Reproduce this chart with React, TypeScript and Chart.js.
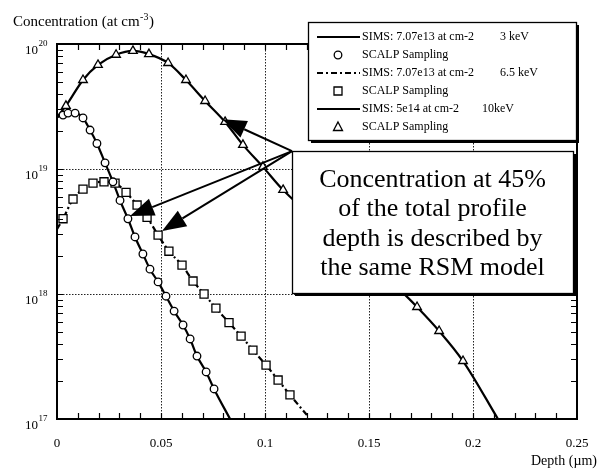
import { useEffect, useRef } from "react";
import { Chart, registerables } from "chart.js";
Chart.register(...registerables);

const SERIF = '"Liberation Serif", "Times New Roman", serif';

// ---- Data (depth in µm, concentration in at/cm^3) ----
const sims3Depth = [0, 0.0029, 0.0053, 0.0087, 0.0125, 0.0159, 0.0192, 0.0231, 0.0269, 0.0303, 0.0341, 0.0375, 0.0413, 0.0447, 0.0486, 0.0524, 0.0563, 0.0606, 0.064, 0.0673, 0.0717, 0.0755, 0.0832];
const sims3Conc = [2.6e19, 2.7e19, 2.8e19, 2.8e19, 2.56e19, 2.05e19, 1.6e19, 1.12e19, 7.9e18, 5.6e18, 4.0e18, 2.86e18, 2.09e18, 1.58e18, 1.25e18, 9.6e17, 7.3e17, 5.65e17, 4.37e17, 3.19e17, 2.38e17, 1.74e17, 1.0e17];
const scalp3Depth = [0.0029, 0.0053, 0.0087, 0.0125, 0.0159, 0.0192, 0.0231, 0.0269, 0.0303, 0.0341, 0.0375, 0.0413, 0.0447, 0.0486, 0.0524, 0.0563, 0.0606, 0.064, 0.0673, 0.0717, 0.0755];
const scalp3Conc = [2.7e19, 2.8e19, 2.8e19, 2.56e19, 2.05e19, 1.6e19, 1.12e19, 7.9e18, 5.6e18, 4.0e18, 2.86e18, 2.09e18, 1.58e18, 1.25e18, 9.6e17, 7.3e17, 5.65e17, 4.37e17, 3.19e17, 2.38e17, 1.74e17];

const sims65Depth = [0, 0.0029, 0.0077, 0.0125, 0.0173, 0.0226, 0.0279, 0.0332, 0.0385, 0.0433, 0.0486, 0.0538, 0.0601, 0.0654, 0.0707, 0.0764, 0.0827, 0.0885, 0.0942, 0.1005, 0.1063, 0.112, 0.1207];
const sims65Conc = [3.3e18, 4.0e18, 5.75e18, 6.9e18, 7.7e18, 7.9e18, 7.7e18, 6.5e18, 5.15e18, 4.1e18, 2.96e18, 2.2e18, 1.7e18, 1.27e18, 1.0e18, 7.7e17, 5.9e17, 4.6e17, 3.56e17, 2.7e17, 2.05e17, 1.56e17, 1.05e17];
const scalp65Depth = [0.0029, 0.0077, 0.0125, 0.0173, 0.0226, 0.0279, 0.0332, 0.0385, 0.0433, 0.0486, 0.0538, 0.0601, 0.0654, 0.0707, 0.0764, 0.0827, 0.0885, 0.0942, 0.1005, 0.1063, 0.112];
const scalp65Conc = [4.0e18, 5.75e18, 6.9e18, 7.7e18, 7.9e18, 7.7e18, 6.5e18, 5.15e18, 4.1e18, 2.96e18, 2.2e18, 1.7e18, 1.27e18, 1.0e18, 7.7e17, 5.9e17, 4.6e17, 3.56e17, 2.7e17, 2.05e17, 1.56e17];

const sims10Depth = [0, 0.0043, 0.0125, 0.0197, 0.0284, 0.0365, 0.0442, 0.0534, 0.062, 0.0712, 0.0808, 0.0894, 0.099, 0.1087, 0.1663, 0.1731, 0.1837, 0.1952, 0.212];
const sims10Conc = [2.6e19, 3.2e19, 5.15e19, 6.8e19, 8.2e19, 8.8e19, 8.3e19, 7.05e19, 5.15e19, 3.5e19, 2.38e19, 1.56e19, 1.04e19, 6.8e18, 1.02e18, 7.87e17, 5.06e17, 2.91e17, 1.0e17];
const scalp10Depth = [0.0043, 0.0125, 0.0197, 0.0284, 0.0365, 0.0442, 0.0534, 0.062, 0.0712, 0.0808, 0.0894, 0.099, 0.1087, 0.1731, 0.1837, 0.1952];
const scalp10Conc = [3.2e19, 5.15e19, 6.8e19, 8.2e19, 8.8e19, 8.3e19, 7.05e19, 5.15e19, 3.5e19, 2.38e19, 1.56e19, 1.04e19, 6.8e18, 7.87e17, 5.06e17, 2.91e17];

const xTicks = [0, 0.05, 0.1, 0.15, 0.2, 0.25];
const yDecades = [17, 18, 19, 20];

const legendLabels = [
  ["SIMS: 7.07e13 at cm-2", "3 keV"],
  ["SCALP Sampling", ""],
  ["SIMS: 7.07e13 at cm-2", "6.5 keV"],
  ["SCALP Sampling", ""],
  ["SIMS: 5e14 at cm-2", "10keV"],
  ["SCALP Sampling", ""],
];
const calloutLines = ["Concentration at 45%", "of the total profile", "depth is described by", "the same RSM model"];
// arrow origin and tips, in data coordinates
const arrowOrigin = { x: 0.113, y: 1.39e19 };
const arrowTips = [
  { x: 0.0795, y: 2.5e19 },
  { x: 0.0351, y: 4.2e18 },
  { x: 0.0505, y: 3.19e18 },
];

const pts = (xs: number[], ys: number[]) => xs.map((x, i) => ({ x, y: ys[i] }));

function drawMarker(ctx: CanvasRenderingContext2D, kind: string, x: number, y: number) {
  ctx.save();
  ctx.fillStyle = "#fff";
  ctx.strokeStyle = "#000";
  ctx.lineWidth = 1.3;
  ctx.setLineDash([]);
  ctx.beginPath();
  if (kind === "circle") ctx.arc(x, y, 3.8, 0, Math.PI * 2);
  else if (kind === "rect") ctx.rect(x - 4, y - 4, 8, 8);
  else {
    ctx.moveTo(x, y - 5);
    ctx.lineTo(x + 4.5, y + 3.5);
    ctx.lineTo(x - 4.5, y + 3.5);
    ctx.closePath();
  }
  ctx.fill();
  ctx.stroke();
  ctx.restore();
}

const decorPlugin = {
  id: "decor",
  afterDatasetsDraw(chart: any) {
    const { ctx, chartArea: a, scales } = chart;
    const xs = scales.x;
    const ys = scales.y;
    ctx.save();
    ctx.strokeStyle = "#000";
    ctx.lineWidth = 1.2;
    ctx.setLineDash([]);
    // x minor ticks (inward, bottom and top)
    for (let i = 1; i < 25; i++) {
      const px = Math.round(xs.getPixelForValue(i * 0.01)) + 0.5;
      ctx.beginPath();
      ctx.moveTo(px, a.bottom);
      ctx.lineTo(px, a.bottom - 6);
      ctx.moveTo(px, a.top);
      ctx.lineTo(px, a.top + 6);
      ctx.stroke();
    }
    // y minor ticks (inward, left and right)
    for (let d = 17; d < 20; d++) {
      for (let m = 2; m <= 10; m++) {
        const py = Math.round(ys.getPixelForValue(m * Math.pow(10, d))) + 0.5;
        ctx.beginPath();
        ctx.moveTo(a.left, py);
        ctx.lineTo(a.left + 6, py);
        ctx.moveTo(a.right, py);
        ctx.lineTo(a.right - 6, py);
        ctx.stroke();
      }
    }
    // frame
    ctx.lineWidth = 2;
    ctx.strokeRect(a.left, a.top, a.right - a.left, a.bottom - a.top);
    ctx.restore();
  },
  afterDraw(chart: any) {
    const { ctx, scales } = chart;
    const xs = scales.x;
    const ys = scales.y;
    ctx.save();
    ctx.fillStyle = "#000";
    // y tick labels 10^n
    for (const d of yDecades) {
      const py = ys.getPixelForValue(Math.pow(10, d));
      ctx.font = `13px ${SERIF}`;
      ctx.textAlign = "right";
      ctx.textBaseline = "alphabetic";
      ctx.fillText("10", 38, py + 10);
      ctx.font = `9px ${SERIF}`;
      ctx.textAlign = "left";
      ctx.fillText(String(d), 38.5, py + 2);
    }
    // y title
    ctx.font = `15px ${SERIF}`;
    ctx.textAlign = "left";
    ctx.textBaseline = "alphabetic";
    const t1 = "Concentration (at cm";
    ctx.fillText(t1, 13, 26);
    const w1 = ctx.measureText(t1).width;
    ctx.font = `10px ${SERIF}`;
    ctx.fillText("-3", 13 + w1 + 0.5, 20);
    const w2 = ctx.measureText("-3").width;
    ctx.font = `15px ${SERIF}`;
    ctx.fillText(")", 13 + w1 + w2 + 1, 26);
    // x title
    ctx.font = `14px ${SERIF}`;
    ctx.textAlign = "right";
    ctx.fillText("Depth (\u00b5m)", 597, 465);

    // legend box
    const L = { x: 308, y: 22, w: 268, h: 118 };
    ctx.fillStyle = "#000";
    ctx.fillRect(L.x + 3, L.y + 3, L.w, L.h);
    ctx.fillStyle = "#fff";
    ctx.fillRect(L.x, L.y, L.w, L.h);
    ctx.strokeStyle = "#000";
    ctx.lineWidth = 1.3;
    ctx.strokeRect(L.x + 0.5, L.y + 0.5, L.w, L.h);
    const kinds = ["solid", "circle", "dash", "rect", "solid", "triangle"];
    legendLabels.forEach((lab, i) => {
      const y = 37 + i * 18;
      const k = kinds[i];
      if (k === "solid" || k === "dash") {
        ctx.save();
        ctx.lineWidth = 2;
        ctx.strokeStyle = "#000";
        ctx.setLineDash(k === "dash" ? [6, 3, 2, 3] : []);
        ctx.beginPath();
        ctx.moveTo(317, y);
        ctx.lineTo(360, y);
        ctx.stroke();
        ctx.restore();
      } else {
        drawMarker(ctx, k, 338, y);
      }
      ctx.fillStyle = "#000";
      ctx.font = `12px ${SERIF}`;
      ctx.textAlign = "left";
      ctx.textBaseline = "middle";
      ctx.fillText(lab[0], 362, y);
      if (lab[1]) ctx.fillText(lab[1], i === 4 ? 482 : 500, y);
    });

    // callout text box
    const B = { x: 292, y: 151, w: 281, h: 142 };
    ctx.fillStyle = "#000";
    ctx.fillRect(B.x + 3, B.y + 3, B.w, B.h);
    ctx.fillStyle = "#fff";
    ctx.fillRect(B.x, B.y, B.w, B.h);
    ctx.strokeStyle = "#000";
    ctx.lineWidth = 1.3;
    ctx.strokeRect(B.x + 0.5, B.y + 0.5, B.w, B.h);
    ctx.fillStyle = "#000";
    ctx.font = `26px ${SERIF}`;
    ctx.textAlign = "center";
    ctx.textBaseline = "middle";
    calloutLines.forEach((s, i) => ctx.fillText(s, B.x + B.w / 2, 180 + i * 29.4));

    // arrows
    const ox = xs.getPixelForValue(arrowOrigin.x);
    const oy = ys.getPixelForValue(arrowOrigin.y);
    for (const t of arrowTips) {
      const tx = xs.getPixelForValue(t.x);
      const ty = ys.getPixelForValue(t.y);
      const ang = Math.atan2(ty - oy, tx - ox);
      const hl = 24;
      const hw = 9;
      const bx = tx - hl * Math.cos(ang);
      const by = ty - hl * Math.sin(ang);
      ctx.strokeStyle = "#000";
      ctx.lineWidth = 2;
      ctx.beginPath();
      ctx.moveTo(ox, oy);
      ctx.lineTo(bx, by);
      ctx.stroke();
      ctx.fillStyle = "#000";
      ctx.beginPath();
      ctx.moveTo(tx, ty);
      ctx.lineTo(bx + hw * Math.sin(ang), by - hw * Math.cos(ang));
      ctx.lineTo(bx - hw * Math.sin(ang), by + hw * Math.cos(ang));
      ctx.closePath();
      ctx.fill();
    }
    ctx.restore();
  },
};

export default function App() {
  const ref = useRef<HTMLCanvasElement>(null);
  useEffect(() => {
    document.body.style.margin = "0";
    const canvas = ref.current!;
    const lineDs = (xs: number[], ys: number[], dash: number[]) => ({
      data: pts(xs, ys),
      showLine: true,
      pointRadius: 0,
      borderColor: "#000",
      borderWidth: 2.2,
      borderDash: dash,
      cubicInterpolationMode: "monotone",
      order: 2,
    });
    const markDs = (xs: number[], ys: number[], style: string, r: number) => ({
      data: pts(xs, ys),
      showLine: false,
      pointStyle: style,
      pointRadius: r,
      pointBackgroundColor: "#fff",
      pointBorderColor: "#000",
      pointBorderWidth: 1.3,
      order: 1,
    });
    const gridColor = (edge: (v: number) => boolean) => (c: any) =>
      c.tick && edge(c.tick.value) ? "rgba(0,0,0,0)" : "#222";
    const chart = new Chart(canvas, {
      type: "scatter",
      data: {
        datasets: [
          lineDs(sims3Depth, sims3Conc, []),
          markDs(scalp3Depth, scalp3Conc, "circle", 3.8),
          lineDs(sims65Depth, sims65Conc, [6, 3, 2, 3]),
          markDs(scalp65Depth, scalp65Conc, "rect", 5.7),
          lineDs(sims10Depth, sims10Conc, []),
          markDs(scalp10Depth, scalp10Conc, "triangle", 5),
        ] as any,
      },
      options: {
        responsive: false,
        animation: false,
        layout: { padding: { left: 0, top: 44, right: 25, bottom: 0 } },
        plugins: { legend: { display: false }, tooltip: { enabled: false } },
        scales: {
          x: {
            type: "linear",
            min: 0,
            max: 0.25,
            afterBuildTicks: (s: any) => {
              s.ticks = xTicks.map((value) => ({ value }));
            },
            afterFit: (s: any) => {
              s.height = 50;
              s.paddingLeft = 0;
              s.paddingRight = 0;
            },
            ticks: {
              color: "#000",
              font: { family: SERIF, size: 13 },
              padding: 17,
              maxRotation: 0,
              callback: (v: any) => String(Math.round(Number(v) * 100) / 100),
            },
            grid: {
              drawTicks: false,
              color: gridColor((v) => v <= 0 || v >= 0.25),
              lineWidth: 1,
            },
            border: { display: false, dash: [1.5, 1.5] },
          },
          y: {
            type: "logarithmic",
            min: 1e17,
            max: 1e20,
            afterBuildTicks: (s: any) => {
              s.ticks = yDecades.map((d) => ({ value: Math.pow(10, d) }));
            },
            afterFit: (s: any) => {
              s.width = 57;
              s.paddingTop = 0;
              s.paddingBottom = 0;
            },
            ticks: { display: false },
            grid: {
              drawTicks: false,
              color: gridColor((v) => v <= 1.01e17 || v >= 0.99e20),
              lineWidth: 1,
            },
            border: { display: false, dash: [1.5, 1.5] },
          },
        },
      },
      plugins: [decorPlugin],
    } as any);
    return () => chart.destroy();
  }, []);
  return (
    <div style={{ width: 602, height: 469 }}>
      <canvas ref={ref} width={602} height={469} style={{ display: "block", width: 602, height: 469 }} />
    </div>
  );
}
